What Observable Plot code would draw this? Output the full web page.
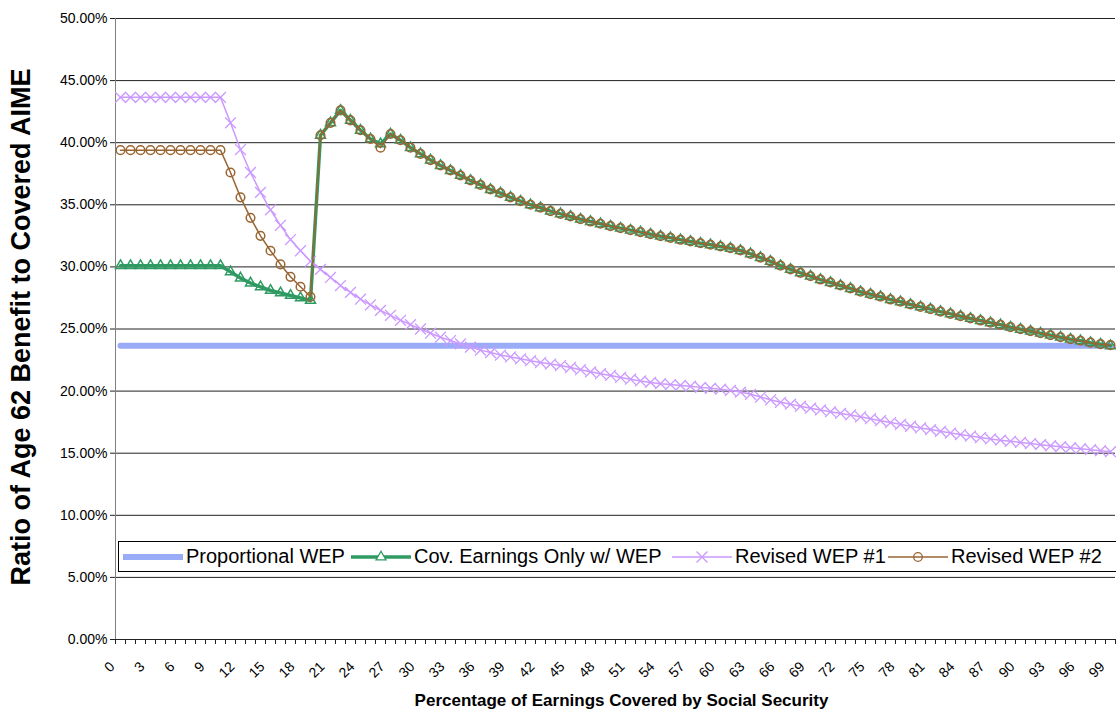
<!DOCTYPE html>
<html><head><meta charset="utf-8">
<script src="https://cdn.jsdelivr.net/npm/d3@7"></script>
<script src="https://cdn.jsdelivr.net/npm/@observablehq/plot@0.6"></script>
<style>
html,body{margin:0;padding:0;background:#fff;overflow:hidden;}
#wrap{position:relative;width:1116px;height:709px;overflow:hidden;font-family:"Liberation Sans",Arial,sans-serif;}
#legend{position:absolute;left:118px;top:541px;width:1010px;height:29px;border:1px solid #000;background:#fff;}
.item{position:absolute;top:0;height:29px;display:flex;align-items:center;font-size:20px;color:#000;white-space:nowrap;}
.item svg{margin-right:3px;}
</style></head><body><div id="wrap"></div>
<script>
const categories = d3.range(0, 100);
const xTickLabels = [0,3,6,9,12,15,18,21,24,27,30,33,36,39,42,45,48,51,54,57,60,63,66,69,72,75,78,81,84,87,90,93,96,99];
const yTicks = [0,5,10,15,20,25,30,35,40,45,50];

const proportionalWEP = [
23.65,23.65,23.65,23.65,23.65,23.65,23.65,23.65,23.65,23.65,
23.65,23.65,23.65,23.65,23.65,23.65,23.65,23.65,23.65,23.65,
23.65,23.65,23.65,23.65,23.65,23.65,23.65,23.65,23.65,23.65,
23.65,23.65,23.65,23.65,23.65,23.65,23.65,23.65,23.65,23.65,
23.65,23.65,23.65,23.65,23.65,23.65,23.65,23.65,23.65,23.65,
23.65,23.65,23.65,23.65,23.65,23.65,23.65,23.65,23.65,23.65,
23.65,23.65,23.65,23.65,23.65,23.65,23.65,23.65,23.65,23.65,
23.65,23.65,23.65,23.65,23.65,23.65,23.65,23.65,23.65,23.65,
23.65,23.65,23.65,23.65,23.65,23.65,23.65,23.65,23.65,23.65,
23.65,23.65,23.65,23.65,23.65,23.65,23.65,23.65,23.65,23.65];

const covEarningsWEP = [
30.1,30.1,30.1,30.1,30.1,30.1,30.1,30.1,30.1,30.1,
30.1,29.6,29.1,28.7,28.4,28.1,27.9,27.7,27.5,27.3,
40.6,41.6,42.6,41.8,41.0,40.3,39.9,40.7,40.2,39.6,
39.1,38.6,38.16,37.76,37.36,36.96,36.6,36.23,35.94,35.6,
35.29,35.0,34.76,34.49,34.27,34.06,33.84,33.65,33.47,33.28,
33.12,32.96,32.8,32.63,32.47,32.34,32.18,32.05,31.9,31.78,
31.64,31.5,31.32,31.05,30.75,30.45,30.1,29.8,29.52,29.25,
28.98,28.74,28.5,28.26,28.0,27.8,27.6,27.37,27.19,26.97,
26.78,26.6,26.4,26.22,26.03,25.85,25.68,25.5,25.34,25.15,
24.98,24.82,24.66,24.5,24.34,24.18,24.05,23.9,23.78,23.65];

const revisedWEP1 = [
43.65,43.65,43.65,43.65,43.65,43.65,43.65,43.65,43.65,43.65,
43.65,41.6,39.45,37.6,36.0,34.6,33.35,32.2,31.3,30.45,
29.8,29.15,28.5,27.95,27.4,26.95,26.5,26.1,25.7,25.35,
25.0,24.66,24.34,24.07,23.8,23.54,23.3,23.1,22.9,22.75,
22.6,22.45,22.3,22.18,22.06,21.9,21.72,21.55,21.4,21.26,
21.1,20.96,20.82,20.7,20.6,20.53,20.46,20.39,20.3,20.23,
20.15,20.05,19.92,19.74,19.52,19.3,19.1,18.95,18.78,18.62,
18.48,18.34,18.2,18.08,17.93,17.78,17.62,17.47,17.32,17.17,
17.03,16.9,16.76,16.62,16.5,16.38,16.26,16.15,16.05,15.96,
15.87,15.78,15.69,15.6,15.52,15.44,15.36,15.28,15.2,15.12];

const revisedWEP2 = [
39.4,39.4,39.4,39.4,39.4,39.4,39.4,39.4,39.4,39.4,
39.4,37.6,35.6,33.95,32.5,31.3,30.2,29.2,28.4,27.6,
40.6,41.6,42.6,41.8,41.0,40.3,39.6,40.7,40.2,39.6,
39.1,38.6,38.16,37.76,37.36,36.96,36.6,36.23,35.94,35.6,
35.29,35.0,34.76,34.49,34.27,34.06,33.84,33.65,33.47,33.28,
33.12,32.96,32.8,32.63,32.47,32.34,32.18,32.05,31.9,31.78,
31.64,31.5,31.32,31.05,30.75,30.45,30.1,29.8,29.52,29.25,
28.98,28.74,28.5,28.26,28.0,27.8,27.6,27.37,27.19,26.97,
26.78,26.6,26.4,26.22,26.03,25.85,25.68,25.5,25.34,25.15,
24.98,24.82,24.66,24.5,24.34,24.18,24.05,23.9,23.78,23.7];

const seriesNames = ["Proportional WEP", "Cov. Earnings Only w/ WEP", "Revised WEP #1", "Revised WEP #2"];
const seriesValues = [proportionalWEP, covEarningsWEP, revisedWEP1, revisedWEP2];
const seriesColors = ["#9aabf7", "#2f9a62", "#cc99ff", "#996633"];
const seriesWidths = [6, 3.5, 1.5, 1.5];
const seriesSymbols = [null, "triangle", "times", "circle"];
const seriesR = [0, 3.7, 5, 4.3];
const legendX = [4, 232, 553, 769];

const boundaries = d3.range(-0.5, 100, 1);

const marks = [
  Plot.ruleY(yTicks, {y: d => d, stroke: "#222", strokeWidth: 1}),
  Plot.ruleX([-0.5], {x: d => d, y1: 0, y2: 50, stroke: "#808080", strokeWidth: 1}),
  Plot.axisY({ticks: yTicks, tickSize: 5, tickPadding: 3, tickFormat: d => d.toFixed(2) + "%", label: null, fontSize: 14, color: "#000", stroke: "#222"}),
  Plot.axisX({ticks: boundaries, tickSize: 5, tickFormat: () => "", label: null, stroke: "#222"}),
  Plot.text(xTickLabels, {x: d => d, y: () => 0, text: d => String(d), dx: -5, dy: 28, rotate: -45, textAnchor: "end", lineAnchor: "bottom", fontSize: 14, fill: "#000"}),
  Plot.text(["Ratio of Age 62 Benefit to Covered AIME"], {frameAnchor: "left", textAnchor: "middle", lineAnchor: "middle", dx: -94, dy: -2, rotate: -90, fontSize: 27, fontWeight: "bold", fill: "#000"}),
  Plot.text(["Percentage of Earnings Covered by Social Security"], {frameAnchor: "bottom", textAnchor: "middle", lineAnchor: "middle", dx: 6, dy: 61, fontSize: 17, fontWeight: "bold", fill: "#000"})
];
seriesValues.forEach((vals, s) => {
  marks.push(Plot.line(categories, {x: d => d, y: d => vals[d], stroke: seriesColors[s], strokeWidth: seriesWidths[s]}));
  if (seriesSymbols[s]) {
    marks.push(Plot.dot(categories, {x: d => d, y: d => vals[d], symbol: seriesSymbols[s], r: seriesR[s], stroke: seriesColors[s], fill: "none", strokeWidth: s === 2 ? 1.3 : 1.5}));
  }
});

const chart = Plot.plot({
  width: 1116, height: 709,
  marginLeft: 115, marginRight: 1, marginTop: 18, marginBottom: 70,
  x: {domain: [-0.5, 99.5], axis: null},
  y: {domain: [0, 50], axis: null},
  style: {fontFamily: "'Liberation Sans', Arial, sans-serif", background: "white", color: "#000"},
  marks
});
const wrap = document.getElementById("wrap");
wrap.appendChild(chart);

const legend = document.createElement("div");
legend.id = "legend";
wrap.appendChild(legend);
seriesNames.forEach((name, s) => {
  const item = document.createElement("div");
  item.className = "item";
  item.style.left = legendX[s] + "px";
  const sw = d3.create("svg").attr("width", 60).attr("height", 20);
  sw.append("line").attr("x1", 0).attr("x2", 60).attr("y1", 10).attr("y2", 10)
    .attr("stroke", seriesColors[s]).attr("stroke-width", seriesWidths[s]);
  if (seriesSymbols[s]) {
    const sym = {triangle: d3.symbolTriangle, times: d3.symbolTimes, circle: d3.symbolCircle}[seriesSymbols[s]];
    sw.append("path").attr("transform", "translate(30,10)")
      .attr("d", d3.symbol(sym, Math.PI * seriesR[s] * seriesR[s])())
      .attr("fill", s === 1 ? "#fff" : "none").attr("stroke", seriesColors[s]).attr("stroke-width", 1.3);
  }
  item.appendChild(sw.node());
  const t = document.createElement("span");
  t.textContent = name;
  item.appendChild(t);
  legend.appendChild(item);
});
</script></body></html>
